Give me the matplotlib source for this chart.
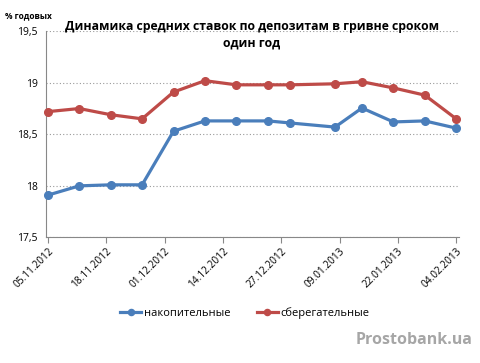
import matplotlib.pyplot as plt
from datetime import datetime, timedelta

# dates of observations
dates = ['05.11.2012', '12.11.2012', '19.11.2012', '26.11.2012', '03.12.2012',
         '10.12.2012', '17.12.2012', '24.12.2012', '29.12.2012', '08.01.2013',
         '14.01.2013', '21.01.2013', '28.01.2013', '04.02.2013']
nakop = [17.91, 18.00, 18.01, 18.01, 18.53, 18.63, 18.63, 18.63, 18.61, 18.57,
         18.755, 18.62, 18.63, 18.56]
sbereg = [18.72, 18.75, 18.69, 18.65, 18.91, 19.02, 18.98, 18.98, 18.98, 18.99,
          19.01, 18.95, 18.88, 18.65]
tick_dates = ['05.11.2012', '18.11.2012', '01.12.2012', '14.12.2012',
              '27.12.2012', '09.01.2013', '22.01.2013', '04.02.2013']
yticks = [17.5, 18, 18.5, 19, 19.5]

plt.rcParams['font.family'] = ['Open Sans', 'DejaVu Sans']

x = [datetime.strptime(d, '%d.%m.%Y') for d in dates]
xt = [datetime.strptime(d, '%d.%m.%Y') for d in tick_dates]

fig = plt.figure(figsize=(4.8, 3.63), dpi=100)
ax = fig.add_axes([0.096, 0.346, 0.86, 0.568])

blue = '#4a7ebb'
red = '#be4b48'
ax.plot(x, nakop, color=blue, lw=2.3, marker='o', ms=5.5, label='накопительные', clip_on=False, zorder=3)
ax.plot(x, sbereg, color=red, lw=2.3, marker='o', ms=5.5, label='сберегательные', clip_on=False, zorder=3)

ax.set_xlim(xt[0] - timedelta(days=0.4), xt[-1] + timedelta(days=0.6))
ax.set_ylim(17.5, 19.5)
ax.set_xticks(xt)
ax.set_xticklabels(tick_dates, rotation=45, ha='right', rotation_mode='anchor', fontsize=7.3)
ax.set_yticks(yticks)
ax.set_yticklabels([('%g' % v).replace('.', ',') for v in yticks], fontsize=7.5)
ax.tick_params(axis='y', length=0, pad=6)
ax.tick_params(axis='x', length=4, color='#888888', pad=2)

ax.grid(axis='y', linestyle=(0, (1, 2)), color='#999999', lw=0.8)
ax.set_axisbelow(True)
for s in ['top', 'right']:
    ax.spines[s].set_visible(False)
for s in ['left', 'bottom']:
    ax.spines[s].set_color('#888888')
    ax.spines[s].set_linewidth(0.8)

fig.text(0.525, 0.905, 'Динамика средних ставок по депозитам в гривне сроком\nодин год',
         ha='center', va='center', fontsize=8.8, fontweight='bold', linespacing=1.35)
fig.text(0.01, 0.958, '% годовых', fontsize=6, fontweight='bold', va='center')

fig.legend(loc='center', bbox_to_anchor=(0.51, 0.137), ncol=2, frameon=False,
           fontsize=8, handlelength=1.9, handletextpad=0.2, columnspacing=2.4,
           markerscale=0.8)

fig.text(0.985, 0.063, 'Prostobank.ua', ha='right', va='center', fontsize=11.5,
         fontweight='bold', color='#a6a6a6')

fig.savefig('out.png', dpi=100)
